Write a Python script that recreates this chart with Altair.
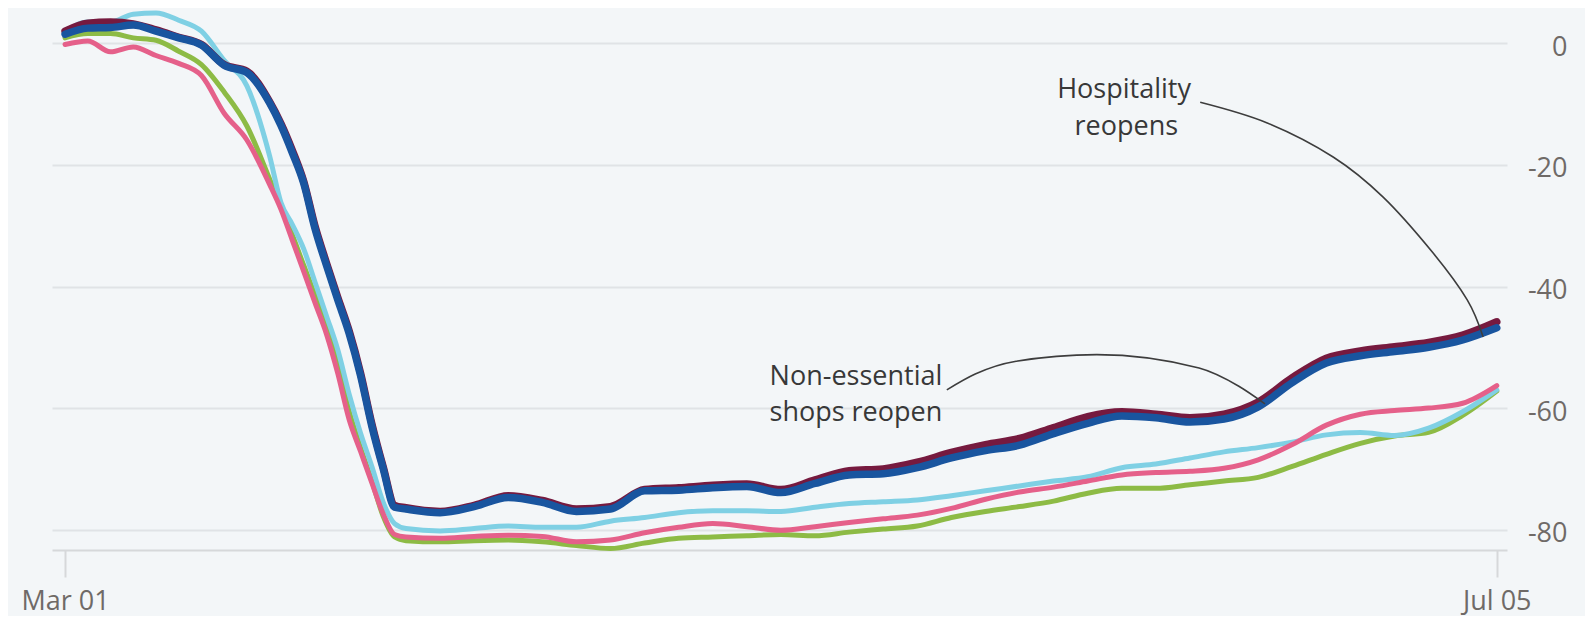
import altair as alt
import pandas as pd

START = "2020-03-01"

# day offsets from Mar 01 2020
days = [0, 2, 4, 6, 8, 10, 12, 14, 16, 18, 19, 20, 21, 22, 23, 24, 25, 26, 27, 28, 29, 30,
        33, 36, 39, 42, 45, 48, 51, 54, 57, 60, 63, 66, 69, 72, 75, 78, 81, 84, 87, 90,
        93, 96, 99, 102, 105, 108, 111, 114, 117, 120, 123, 126]

blue = [1.5, 2.5, 2.6, 3.0, 2.0, 0.9, -0.3, -3.6, -4.8, -9.8, -13.5, -18.0, -23.0, -30.5, -36.5,
        -42.2, -47.7, -54.6, -63.0, -70.0, -76.3, -76.6,
        -77.2, -76.2, -74.7, -75.5, -77.0, -76.6, -73.6, -73.5, -73.1, -72.9, -73.9, -72.4,
        -71.0, -70.8, -69.8, -68.2, -67.0, -66.1, -64.2, -62.5, -61.3, -61.6, -62.3, -61.8,
        -59.8, -55.8, -52.6, -51.4, -50.7, -50.0, -48.8, -46.8]

maroon = [2.0, 3.3, 3.5, 3.2, 2.2, 1.0, -0.2, -3.5, -4.6, -9.6, -13.2, -17.6, -22.7, -30.1, -36.1,
          -41.8, -47.3, -54.2, -62.6, -69.7, -76.0, -76.4,
          -77.0, -76.0, -74.4, -75.2, -76.6, -76.2, -73.4, -73.1, -72.7, -72.5, -73.4, -71.8,
          -70.3, -70.0, -68.9, -67.3, -66.0, -65.0, -63.2, -61.4, -60.6, -61.0, -61.6, -61.0,
          -59.0, -55.0, -51.8, -50.6, -49.9, -49.2, -48.0, -45.8]

cyan = [1.9, 3.5, 3.5, 4.8, 5.0, 3.8, 2.0, -2.8, -7.0, -18.5, -26.2, -29.8, -33.8, -39.3, -44.8,
        -50.4, -57.7, -64.1, -69.6, -75.5, -79.0, -79.8,
        -80.2, -79.8, -79.4, -79.6, -79.6, -78.6, -78.0, -77.2, -76.9, -76.9, -77.0, -76.3,
        -75.7, -75.4, -75.1, -74.4, -73.6, -72.8, -72.0, -71.3, -69.8, -69.2, -68.2, -67.2,
        -66.5, -65.6, -64.4, -64.0, -64.5, -63.3, -60.6, -57.0]

pink = [-0.2, 0.4, -1.4, -0.6, -2.0, -3.3, -5.3, -11.5, -15.9, -23.2, -27.3, -32.4, -37.5, -42.7,
        -47.8, -54.3, -61.9, -67.1, -72.3, -77.4, -80.8, -81.2,
        -81.4, -81.1, -80.9, -81.1, -82.0, -81.7, -80.5, -79.6, -79.0, -79.5, -80.1, -79.5,
        -78.8, -78.2, -77.6, -76.5, -75.0, -73.8, -73.0, -72.0, -71.0, -70.6, -70.4, -69.9,
        -68.5, -66.0, -62.8, -61.0, -60.4, -60.0, -59.2, -56.3]

green = [0.9, 1.6, 1.6, 0.9, 0.5, -1.3, -3.5, -8.0, -13.6, -22.3, -26.8, -31.5, -36.5, -41.5,
         -46.5, -53.0, -60.5, -66.5, -72.0, -77.8, -81.2, -81.8,
         -82.0, -81.8, -81.7, -82.0, -82.6, -83.1, -82.2, -81.4, -81.2, -81.0, -80.8, -81.0,
         -80.4, -79.9, -79.4, -78.0, -77.0, -76.2, -75.3, -74.0, -73.2, -73.2, -72.6, -72.0,
         -71.4, -69.6, -67.6, -65.8, -64.6, -64.0, -61.2, -57.2]

# draw order: bottom to top
series = [
    ("green", green, "#8dbb45", 5),
    ("cyan", cyan, "#7fd0e4", 5),
    ("pink", pink, "#e5608a", 5),
    ("maroon", maroon, "#761a3f", 7.5),
    ("blue", blue, "#19559f", 7.5),
]

y_ticks = [0, -20, -40, -60, -80]

hosp_leader_days = [99.9, 105.8, 111.6, 116.0, 120.4, 123.4, 124.8]
hosp_leader_vals = [-9.7, -13.1, -18.7, -25.3, -34.5, -42.2, -48.3]
shops_leader_days = [77.6, 80.1, 83.7, 90.8, 99.8, 103.3, 105.6]
shops_leader_vals = [-57.0, -54.4, -52.3, -51.2, -53.4, -56.4, -59.3]

note_texts = ["Hospitality", "reopens", "Non-essential", "shops reopen"]
note_days = [93.2, 93.4, 77.2, 77.2]
note_vals = [-9.0, -15.1, -56.2, -62.1]
note_align = ["center", "center", "right", "right"]


def to_date(d):
    return (pd.Timestamp(START) + pd.to_timedelta(d, unit="D")).strftime("%Y-%m-%dT%H:%M:%SZ")


x_scale = alt.Scale(
    type="utc",
    domain=[alt.DateTime(year=2020, month=2, date=28, hours=20, minutes=24, utc=True),
            alt.DateTime(year=2020, month=7, date=5, hours=21, minutes=36, utc=True)],
    nice=False,
)
y_scale = alt.Scale(domain=[-83.34, 5.81], nice=False, zero=False)

x_axis = alt.Axis(
    values=[alt.DateTime(year=2020, month=3, date=1, utc=True),
            alt.DateTime(year=2020, month=7, date=5, utc=True)],
    labelExpr="utcFormat(datum.value, '%b %d')", title=None, grid=False,
    domain=True, domainColor="#d6d8da", domainWidth=2,
    ticks=True, tickSize=27, tickColor="#d6d8da", tickWidth=2,
    labelFont="Open Sans", labelFontSize=27, labelColor="#6f6a67",
    labelPadding=24, labelBaseline="middle", labelFlush=False,
)
y_axis = alt.Axis(
    orient="right", values=y_ticks, title=None, grid=True,
    labelExpr="'' + datum.value",
    gridColor="#e0e3e6", gridWidth=2, domain=False, ticks=False,
    labelFont="Open Sans", labelFontSize=27, labelColor="#6f6a67",
    labelAlign="right", labelPadding=60, labelBaseline="middle", labelOffset=4,
)

X = alt.X("date:T", scale=x_scale, axis=x_axis)
Y = alt.Y("value:Q", scale=y_scale, axis=y_axis)

layers = []
for name, vals, color, width in series:
    df = pd.DataFrame({"date": [to_date(d) for d in days], "value": vals})
    layers.append(
        alt.Chart(df).mark_line(color=color, strokeWidth=width, strokeJoin="round",
                                strokeCap="round", interpolate="monotone").encode(x=X, y=Y)
    )

for ld, lv, interp in [(hosp_leader_days, hosp_leader_vals, "cardinal"),
                       (shops_leader_days, shops_leader_vals, "monotone")]:
    df = pd.DataFrame({"date": [to_date(d) for d in ld], "value": lv})
    layers.append(
        alt.Chart(df).mark_line(color="#3d3d3d", strokeWidth=1.6, interpolate=interp).encode(x=X, y=Y)
    )

for align in ["center", "right"]:
    rows = [(t, to_date(d), v) for t, d, v, a in zip(note_texts, note_days, note_vals, note_align) if a == align]
    df = pd.DataFrame(rows, columns=["text", "date", "value"])
    layers.append(
        alt.Chart(df).mark_text(font="Open Sans", fontSize=27, color="#383838", align=align,
                                baseline="alphabetic").encode(x=X, y=Y, text="text:N")
    )

chart = alt.layer(*layers).properties(
    width=1455, height=542,
    autosize=alt.AutoSizeParams(type="none"),
    padding={"left": 44, "top": 0, "right": 78, "bottom": 66},
    background="#f3f6f8",
).configure_view(stroke=None)

chart.save("out.html", embed_options={"renderer": "svg", "actions": False})
